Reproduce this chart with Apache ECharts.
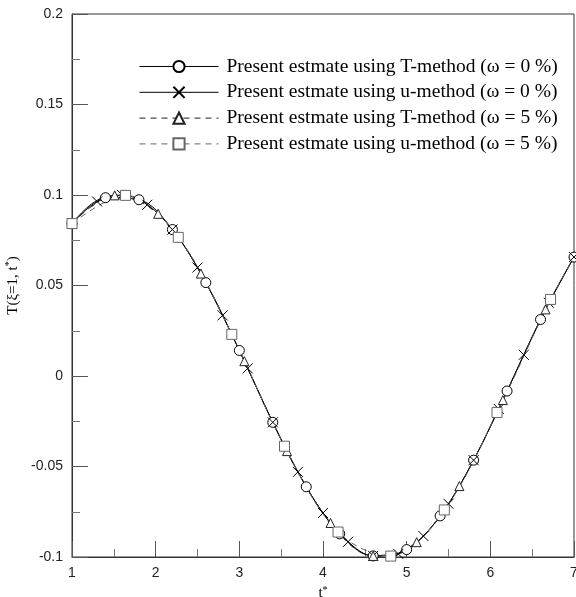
<!DOCTYPE html>
<html>
<head>
<meta charset="utf-8">
<script src="https://cdn.jsdelivr.net/npm/echarts@6/dist/echarts.min.js"></script>
<style>html,body{margin:0;padding:0;background:#fff;}#c{width:576px;height:597px;}</style>
</head>
<body>
<div id="c"></div>
<script>
// Data
var seriesNames = [
  'Present estmate using T-method (\u03c9 = 0 %)',
  'Present estmate using u-method (\u03c9 = 0 %)',
  'Present estmate using T-method (\u03c9 = 5 %)',
  'Present estmate using u-method (\u03c9 = 5 %)'
];
var tCircle = [1.0, 1.4, 1.8, 2.2, 2.6, 3.0, 3.4, 3.8, 4.2, 4.6, 5.0, 5.4, 5.8, 6.2, 6.6, 7.0];
var yCircle = [0.0842, 0.0985, 0.0974, 0.0809, 0.0516, 0.0141, -0.0256, -0.0612, -0.0872, -0.0994, -0.0959, -0.0773, -0.0465, -0.0083, 0.0312, 0.0657];
var tCross = [1.0, 1.3, 1.6, 1.9, 2.2, 2.5, 2.8, 3.1, 3.4, 3.7, 4.0, 4.3, 4.6, 4.9, 5.2, 5.5, 5.8, 6.1, 6.4, 6.7, 7.0];
var yCross = [0.0842, 0.0964, 0.1000, 0.0946, 0.0809, 0.0599, 0.0335, 0.0042, -0.0256, -0.0530, -0.0757, -0.0916, -0.0994, -0.0983, -0.0884, -0.0706, -0.0465, -0.0182, 0.0117, 0.0405, 0.0657];
var tTri = [1.0, 1.51, 2.03, 2.54, 3.06, 3.57, 4.09, 4.60, 5.12, 5.63, 6.15, 6.66, 7.0];
var yTri = [0.0842, 0.0998, 0.0896, 0.0566, 0.0082, -0.0415, -0.0812, -0.0994, -0.0918, -0.0608, -0.0133, 0.0368, 0.0657];
var tSq = [1.0, 1.64, 2.27, 2.91, 3.54, 4.18, 4.81, 5.45, 6.08, 6.72, 7.0];
var ySq = [0.0842, 0.0998, 0.0766, 0.0230, -0.0388, -0.0862, -0.0995, -0.0740, -0.0202, 0.0423, 0.0657];
var xTicks = [1, 2, 3, 4, 5, 6, 7];
var yTicks = [-0.1, -0.05, 0, 0.05, 0.1, 0.15, 0.2];

function pairs(ts, ys, lastNoSymbol) {
  return ts.map(function (t, i) {
    var item = { value: [t, ys[i]] };
    if (lastNoSymbol && i === ts.length - 1) item.symbol = 'none';
    return item;
  });
}

var chart = echarts.init(document.getElementById('c'), null, { renderer: 'canvas' });
var serif = '"Liberation Serif", "DejaVu Serif", serif';
var sans = '"Liberation Sans", Arial, sans-serif';
var circlePath = 'path://M0,5A5,5 0 1,1 10,5A5,5 0 1,1 0,5Z';
var crossPath = 'path://M0,0L10,10M10,0L0,10';
var triPath = 'path://M5,0L10,9L0,9Z';
var sqPath = 'path://M0,0L10,0L10,10L0,10Z';

function mkSeries(name, data, symbol, size, color, dash, fill) {
  return {
    name: name, type: 'line', data: data, smooth: 0.35,
    symbol: symbol, symbolSize: size, showAllSymbol: true,
    lineStyle: { color: color, width: 1, type: dash },
    itemStyle: { color: fill, borderColor: color, borderWidth: 1 },
    emphasis: { disabled: true },
    z: 3
  };
}

var option = {
  animation: false,
  backgroundColor: '#fff',
  grid: { left: 72, right: 2, top: 14, bottom: 40, containLabel: false, outerBoundsMode: 'none',
    show: true, borderColor: '#333', borderWidth: 1, backgroundColor: 'transparent' },
  legend: {
    orient: 'vertical', left: 139, top: 56.5, padding: 0,
    itemWidth: 79, itemHeight: 14, itemGap: 5.8,
    lineStyle: { width: 1 },
    textStyle: { fontFamily: serif, fontSize: 19.5, color: '#000', padding: [0, 0, 0, 3] },
    data: seriesNames
  },
  xAxis: {
    type: 'value', min: 1, max: 7, interval: 1,
    name: '{n|t}{s|*}', nameLocation: 'middle', nameGap: 11,
    nameTextStyle: { fontFamily: serif, fontSize: 15, color: '#000',
      rich: { n: { fontFamily: serif, fontSize: 15, color: '#000' }, s: { fontSize: 10, padding: [0, 0, 7, 0], fontFamily: serif, color: '#000' } } },
    axisLine: { show: true, onZero: false, lineStyle: { color: '#333', width: 1 } },
    axisTick: { show: true, inside: true, length: 16, lineStyle: { color: '#555' } },
    minorTick: { show: true, splitNumber: 2, length: 8, lineStyle: { color: '#777' } },
    axisLabel: { fontFamily: sans, fontSize: 14, color: '#222', margin: 9,
      formatter: function (v) { return xTicks.indexOf(v) >= 0 ? String(v) : ''; } },
    splitLine: { show: false }
  },
  yAxis: {
    type: 'value', min: -0.1, max: 0.2, interval: 0.05,
    name: '{n|T(\u03be=1, t}{s|*}{n|)}', nameLocation: 'middle', nameGap: 48,
    nameTextStyle: { fontFamily: serif, fontSize: 15, color: '#000',
      rich: { n: { fontFamily: serif, fontSize: 15, color: '#000' }, s: { fontSize: 10, padding: [0, 0, 7, 0], fontFamily: serif, color: '#000' } } },
    axisLine: { show: true, onZero: false, lineStyle: { color: '#333', width: 1 } },
    axisTick: { show: true, inside: true, length: 16, lineStyle: { color: '#555' } },
    minorTick: { show: true, splitNumber: 2, length: 8, lineStyle: { color: '#777' } },
    axisLabel: { fontFamily: sans, fontSize: 14, color: '#222', margin: 9,
      formatter: function (v) {
        for (var i = 0; i < yTicks.length; i++) if (Math.abs(yTicks[i] - v) < 1e-9) return String(yTicks[i]);
        return '';
      } },
    splitLine: { show: false }
  },
  series: [
    mkSeries(seriesNames[0], pairs(tCircle, yCircle, false), circlePath, 10, '#000', 'solid', '#fff'),
    mkSeries(seriesNames[1], pairs(tCross, yCross, false), crossPath, 10, '#000', 'solid', 'rgba(0,0,0,0)'),
    mkSeries(seriesNames[2], pairs(tTri, yTri, true), triPath, 9, '#222', [6, 5], '#fff'),
    mkSeries(seriesNames[3], pairs(tSq, ySq, true), sqPath, 10, '#666', [6, 5], '#fff')
  ]
};
chart.setOption(option);
</script>
</body>
</html>
